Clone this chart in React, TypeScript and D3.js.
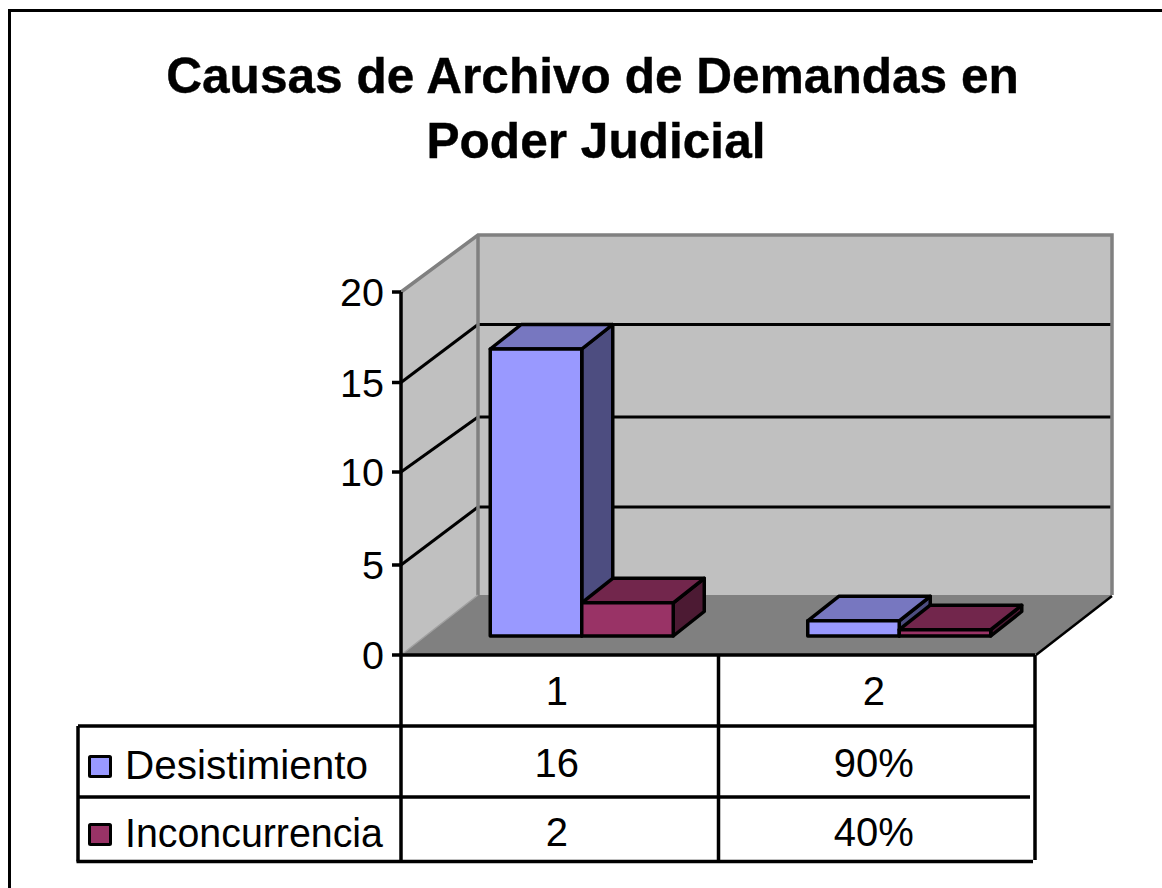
import React from "react";
import * as d3 from "d3";

const titleLines = ["Causas de Archivo de Demandas en", "Poder Judicial"];
const categories = ["1", "2"];
const seriesNames = ["Desistimiento", "Inconcurrencia"];
const seriesColors = ["#9999ff", "#993366"];
const topColors = ["#7777c0", "#72264c"];
const sideColors = ["#4d4d80", "#4c1a33"];
const desistimientoValues = [16, 0.85];
const inconcurrenciaValues = [1.85, 0.35];
const desistimientoLabels = ["16", "90%"];
const inconcurrenciaLabels = ["2", "40%"];
const yTicks = [0, 5, 10, 15, 20];

const FONT = "'Liberation Sans', Arial, sans-serif";
const DEPTH_X = 77;
const BAR_BASE_X = 22;
const BAR_DEPTH = { x: 31, y: -24.5 };

const yFront = d3.scaleLinear().domain(yTicks).range([655, 565, 472, 382.5, 292]);
const yBack = d3.scaleLinear().domain(yTicks).range([595, 507, 417, 324.5, 235]);
const yBar = d3.scaleLinear().domain([0, 16]).range([636, 349]);
const xCat = d3.scaleBand<string>().domain(categories).range([401, 1036]);
const xPlot = [401, 1035];
const xSeries = d3.scaleBand<string>().domain(seriesNames).range([0, 183]);

const line = d3.line();
const poly = (pts: [number, number][]) => line(pts) + "Z";

export default function App() {
  const values = [desistimientoValues, inconcurrenciaValues];
  const labels = [desistimientoLabels, inconcurrenciaLabels];
  const backX = [xPlot[0] + DEPTH_X, xPlot[1] + DEPTH_X];
  const rowYs = [655, 726, 797, 861.5];
  const colXs = [78, 401, xCat("2") as number, 1035];
  const titleX = [592.5, 596];
  const legendTextY = [779, 847];
  const legendTextW = [243, 258];
  const legendBoxY = [756.5, 824.5];
  const cellTextY = [777, 846];

  return (
    <svg width={1162} height={888} style={{ position: "absolute", left: 0, top: 0, background: "#fff" }} fontFamily={FONT}>
      <path d="M9.5,888V10.5H1162" fill="none" stroke="#000" strokeWidth={3} />
      {titleLines.map((t, i) => (
        <text key={t} x={titleX[i]} y={93 + i * 65} textAnchor="middle" fontSize={49.6} fontWeight="bold" fill="#000" stroke="#000" strokeWidth={0.4}>{t}</text>
      ))}

      {/* walls and floor */}
      <path d={poly([[xPlot[0], yFront(20)], [backX[0], yBack(20)], [backX[0], yBack(0)], [xPlot[0], yFront(0)]])} fill="#c0c0c0" />
      <rect x={backX[0]} y={yBack(20)} width={backX[1] - backX[0]} height={yBack(0) - yBack(20)} fill="#c0c0c0" />
      <path d={poly([[xPlot[0], yFront(0)], [backX[0], yBack(0)], [backX[1], yBack(0)], [xPlot[1], yFront(0)]])} fill="#808080" />

      {/* gridlines */}
      {yTicks.filter(t => t > 0 && t < 20).map(t => (
        <g key={t} stroke="#000" strokeWidth={3}>
          <line x1={xPlot[0]} y1={yFront(t)} x2={backX[0]} y2={yBack(t)} />
          <line x1={backX[0]} y1={yBack(t)} x2={backX[1]} y2={yBack(t)} />
        </g>
      ))}

      {/* wall borders */}
      <g stroke="#808080" strokeWidth={3.5} fill="none">
        <path d={`M${xPlot[0]},${yFront(20)}L${backX[0]},${yBack(20)}L${backX[1]},${yBack(20)}L${backX[1]},${yBack(0)}`} />
        <line x1={backX[0]} y1={yBack(20)} x2={backX[0]} y2={yBack(0)} />
      </g>
      <line x1={xPlot[0]} y1={yFront(0)} x2={backX[0]} y2={yBack(0)} stroke="#a0a0a0" strokeWidth={1.5} />
      <line x1={xPlot[1] + 1} y1={yFront(0)} x2={backX[1]} y2={yBack(0) + 1} stroke="#000" strokeWidth={2.5} />

      {/* bars */}
      {[1, 0].map(ci => seriesNames.map((s, si) => {
        const x0 = (xCat(categories[ci]) as number) + xCat.bandwidth() / 2 - 91.5 + BAR_BASE_X + (xSeries(s) as number);
        const x1 = x0 + xSeries.bandwidth();
        const top = yBar(values[si][ci]);
        const bot = yBar(0);
        const d = BAR_DEPTH;
        return (
          <g key={s + ci} stroke="#000" strokeWidth={3.5} strokeLinejoin="round">
            <path d={poly([[x1, bot], [x1 + d.x, bot + d.y], [x1 + d.x, top + d.y], [x1, top]])} fill={sideColors[si]} />
            <path d={poly([[x0, top], [x0 + d.x, top + d.y], [x1 + d.x, top + d.y], [x1, top]])} fill={topColors[si]} />
            <rect x={x0} y={top} width={x1 - x0} height={bot - top} fill={seriesColors[si]} />
          </g>
        );
      }))}

      {/* y axis */}
      <g stroke="#000" strokeWidth={3.5}>
        <line x1={xPlot[0]} y1={yFront(20)} x2={xPlot[0]} y2={rowYs[3]} />
        {yTicks.map(t => <line key={t} x1={xPlot[0] - 9} x2={xPlot[0]} y1={yFront(t)} y2={yFront(t)} />)}
      </g>
      {yTicks.map(t => (
        <text key={t} x={384} y={yFront(t) + 14} textAnchor="end" fontSize={39.5} fill="#000">{t}</text>
      ))}

      {/* data table */}
      <g stroke="#000" strokeWidth={3.5}>
        <line x1={xPlot[0]} x2={xPlot[1]} y1={rowYs[0]} y2={rowYs[0]} />
        <line x1={colXs[0]} x2={colXs[3]} y1={rowYs[1]} y2={rowYs[1]} />
        <line x1={colXs[0]} x2={1030} y1={rowYs[2]} y2={rowYs[2]} />
        <line x1={colXs[0] - 1.5} x2={1033} y1={rowYs[3]} y2={rowYs[3]} />
        <line x1={colXs[0]} x2={colXs[0]} y1={rowYs[1]} y2={rowYs[3]} />
        <line x1={colXs[2]} x2={colXs[2]} y1={rowYs[0]} y2={rowYs[3]} />
        <line x1={colXs[3]} x2={colXs[3]} y1={rowYs[0]} y2={860} />
      </g>
      {categories.map((c, i) => (
        <text key={c} x={(colXs[i + 1] + colXs[i + 2]) / 2 - 3} y={705} textAnchor="middle" fontSize={40} fill="#000">{c}</text>
      ))}
      {seriesNames.map((s, si) => (
        <g key={s}>
          <rect x={89.5} y={legendBoxY[si]} width={21} height={20} fill={seriesColors[si]} stroke="#000" strokeWidth={3} rx={1} />
          <text x={125} y={legendTextY[si]} fontSize={40} fill="#000" textLength={legendTextW[si]} lengthAdjust="spacingAndGlyphs">{s}</text>
          {labels[si].map((l, i) => (
            <text key={i} x={(colXs[i + 1] + colXs[i + 2]) / 2 - 3} y={cellTextY[si]} textAnchor="middle" fontSize={40} fill="#000">{l}</text>
          ))}
        </g>
      ))}
    </svg>
  );
}
